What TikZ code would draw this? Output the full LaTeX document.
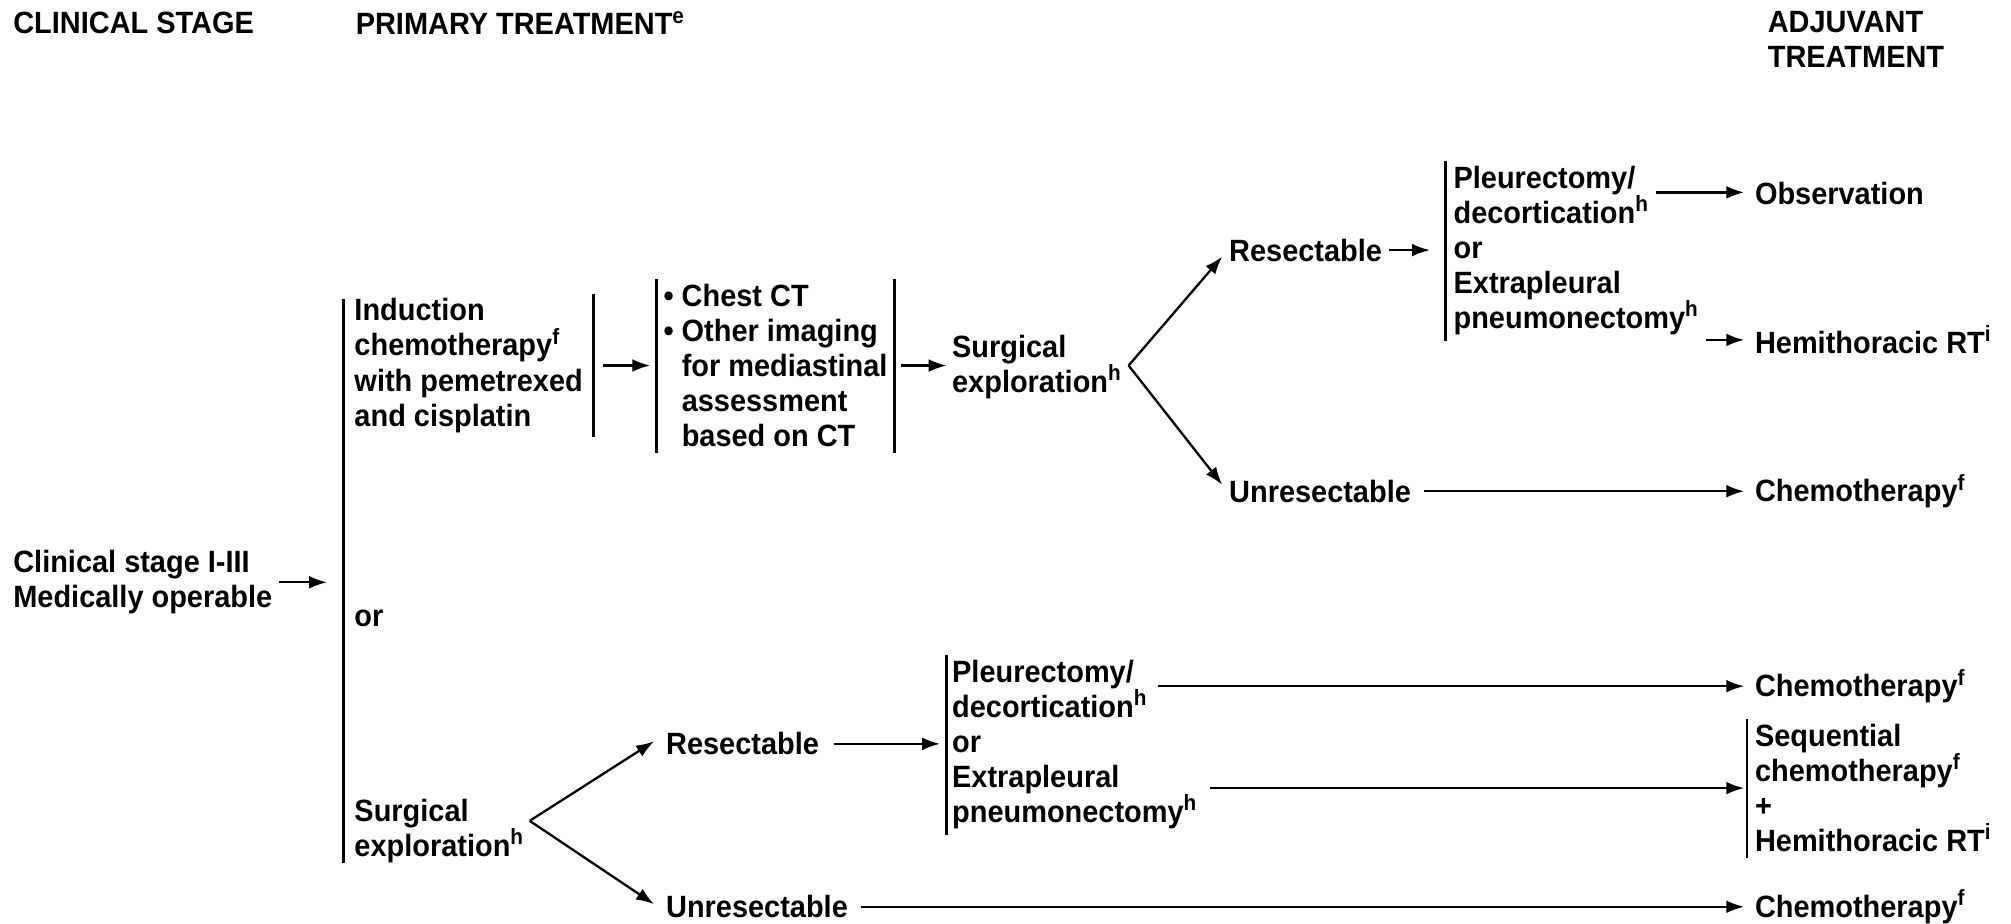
\documentclass[tikz,border=0pt]{standalone}
\usepackage{fontspec}
\setmainfont{Liberation Sans}[FakeStretch=0.94]
\usetikzlibrary{arrows.meta,calc}
\newcommand\supx[1]{\raisebox{4.6pt}{\fontsize{8.6pt}{8.6pt}\selectfont\bfseries #1}}
\begin{document}
\begin{tikzpicture}[x=0.5pt,y=-0.5pt,
  every node/.style={font=\fontsize{12pt}{13.65pt}\selectfont\bfseries, inner sep=0pt, anchor=west, align=left},
  arr/.style={-{Latex[length=7pt,width=5pt]}, line width=0.9pt},
  ln/.style={line width=1pt},
]
\useasboundingbox (0,0) rectangle (1568,720);
% headers
\node (h1) at (10,18) {CLINICAL STAGE};
\node (h2) at (277,18) {PRIMARY TREATMENT\supx{e}};
\node (h3) at (1378,31) {ADJUVANT\\TREATMENT};
% left
\node (stage) at (10,454) {Clinical stage I-III\\Medically operable};
\coordinate (b1top) at (268,233);
\coordinate (b1bot) at (268,673);
\coordinate (b1in) at (268,455);
% upper branch
\node[inner xsep=4pt, inner ysep=1.5pt] (ind) at (268,285) {Induction\\chemotherapy\supx{f}\\with pemetrexed\\and cisplatin};
\node[inner xsep=2.5pt, inner ysep=2pt] (img) at (512,285) {• Chest CT\\• Other imaging\\\phantom{•\ }for mediastinal\\\phantom{•\ }assessment\\\phantom{•\ }based on CT};
\node (surg1) at (742,286) {Surgical\\exploration\supx{h}};
\coordinate (f1) at (880,285);
\node (res1) at (958,195) {Resectable};
\node (unres1) at (958,383) {Unresectable};
\node[inner xsep=3pt, inner ysep=2pt] (pd1) at (1127,195.5) {Pleurectomy/\\decortication\supx{h}\\or\\Extrapleural\\pneumonectomy\supx{h}};
\node (obs) at (1368,151) {Observation};
\node (hrt) at (1368,265) {Hemithoracic RT\supx{i}};
\node (chemo1) at (1368,383) {Chemotherapy\supx{f}};
\coordinate (o1s) at (1291,150);
% lower branch
\node (or) at (276,482) {or};
\node (surg2) at (276,648) {Surgical\\exploration\supx{h}};
\coordinate (f2) at (413,640);
\node (res2) at (519,580) {Resectable};
\node (unres2) at (519,707) {Unresectable};
\node[inner xsep=2pt, inner ysep=2pt] (pd2) at (738,580.5) {Pleurectomy/\\decortication\supx{h}\\or\\Extrapleural\\pneumonectomy\supx{h}};
\coordinate (c2s) at (903,535);
\node (chemo2) at (1368,535) {Chemotherapy\supx{f}};
\node[inner xsep=3pt, inner ysep=2pt] (seq) at (1362,614.5) {Sequential\\chemotherapy\supx{f}\\+\\Hemithoracic RT\supx{i}};
\node (chemo3) at (1368,707) {Chemotherapy\supx{f}};
% bars
\draw[ln] (b1top) -- (b1bot);
\draw[ln] (ind.north east) -- (ind.south east);
\draw[ln] (img.north west) -- (img.south west);
\draw[ln] (img.north east) -- (img.south east);
\draw[ln] (pd1.north west) -- (pd1.south west);
\draw[ln] (pd2.north west) -- (pd2.south west);
\draw[ln] (seq.north west) -- (seq.south west);
% arrows
\draw[arr, shorten <=2.5pt, shorten >=6.5pt] (stage.east) -- (stage.east -| b1in);
\draw[arr, shorten <=3.5pt, shorten >=2.5pt] (ind.east) -- (img.west);
\draw[arr, shorten <=2.5pt, shorten >=2pt] (img.east) -- (img.east -| surg1.west);
\draw[arr] (f1) -- ([xshift=-2.5pt,yshift=-2.5pt]res1.west);
\draw[arr] (f1) -- ([xshift=-2.5pt,yshift=2.5pt]unres1.west);
\draw[arr, shorten <=2.5pt, shorten >=6pt] (res1.east) -- (res1.east -| pd1.west);
\draw[arr, shorten >=4pt] (o1s) -- (o1s -| obs.west);
\draw[arr, shorten >=4pt] (pd1.east |- hrt.west) -- (hrt.west);
\draw[arr, shorten <=5pt, shorten >=4pt] (unres1.east) -- (chemo1.west);
\draw[arr] (f2) -- ([xshift=-4.5pt,yshift=1pt]res2.west);
\draw[arr] (f2) -- ([xshift=-4.5pt,yshift=1pt]unres2.west);
\draw[arr, shorten <=5.5pt, shorten >=2.5pt] (res2.east) -- (res2.east -| pd2.west);
\draw[arr, shorten >=4pt] (c2s) -- (c2s -| chemo2.west);
\draw[arr, shorten <=3pt, shorten >=1pt] (pd2.east |- seq.west) -- (seq.west);
\draw[arr, shorten <=5pt, shorten >=4pt] (unres2.east) -- (chemo3.west);
\end{tikzpicture}
\end{document}
